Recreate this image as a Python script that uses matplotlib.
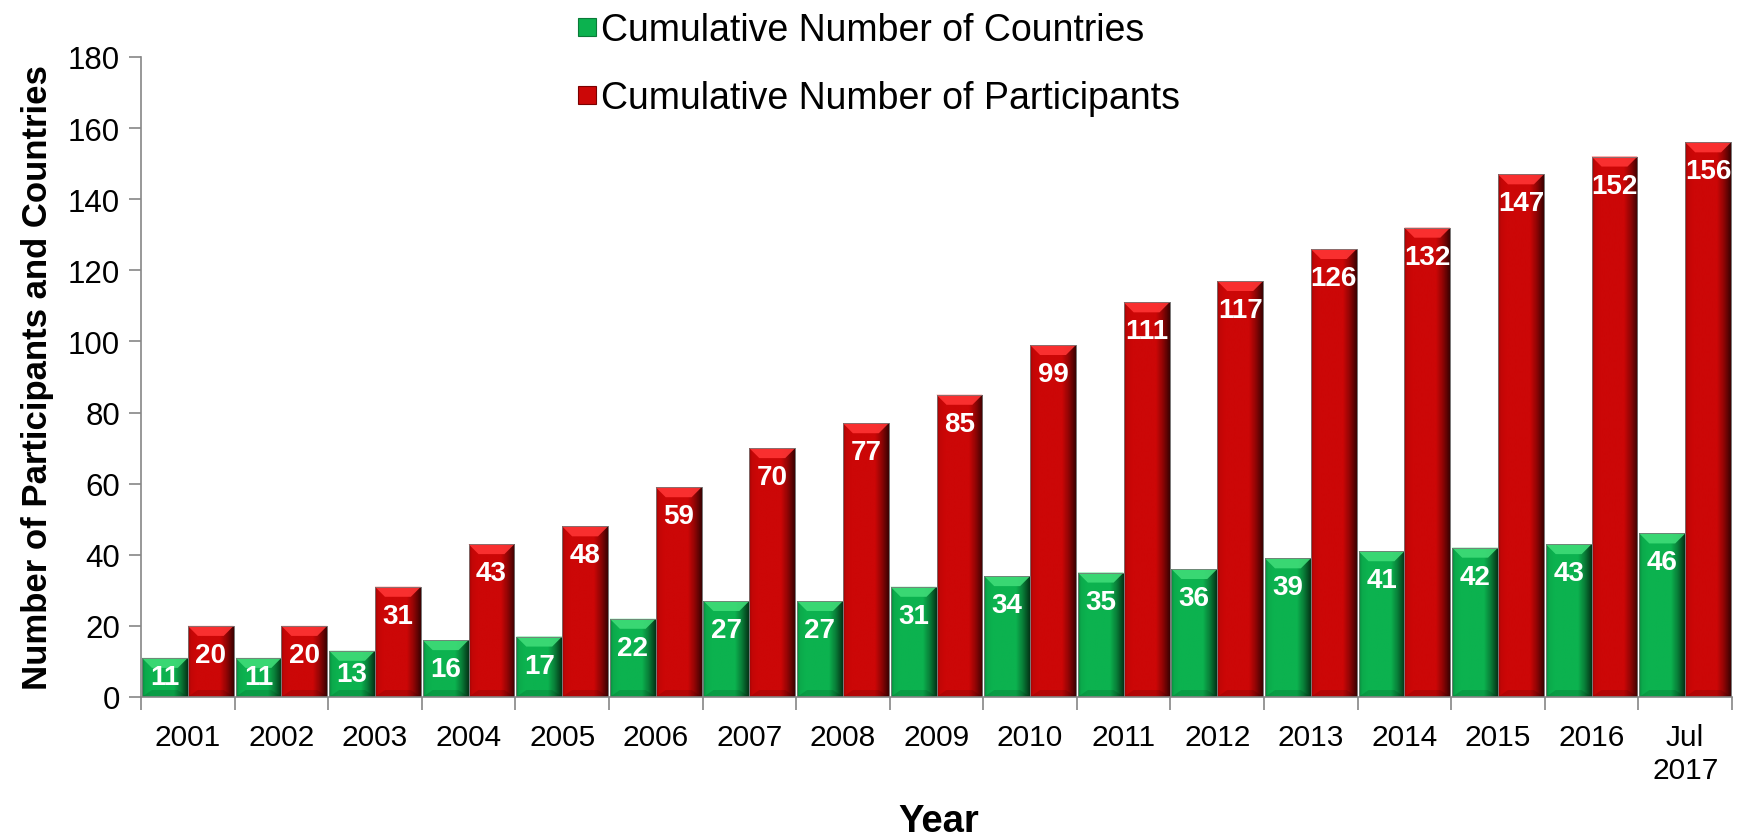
import numpy as np
import matplotlib.pyplot as plt
from matplotlib.patches import Polygon
from matplotlib.lines import Line2D
from matplotlib.colors import to_rgb

plt.rcParams['font.family'] = ['Liberation Sans', 'DejaVu Sans']

# Yearly cumulative totals
years = ['2001', '2002', '2003', '2004', '2005', '2006', '2007', '2008', '2009',
         '2010', '2011', '2012', '2013', '2014', '2015', '2016', 'Jul\n2017']
countries = [11, 11, 13, 16, 17, 22, 27, 27, 31, 34, 35, 36, 39, 41, 42, 43, 46]
participants = [20, 20, 31, 43, 48, 59, 70, 77, 85, 99, 111, 117, 126, 132, 147, 152, 156]

GREEN = '#0cb24f'
GREEN_TOP = '#3fdc78'
RED = '#cc0707'
RED_TOP = '#ff3434'

fig = plt.figure(figsize=(17.42, 8.37), dpi=100)
top_px, bot_px = 58, 698
ax = fig.add_axes([141 / 1742, 1 - bot_px / 837, (1732 - 141) / 1742, (bot_px - top_px) / 837])

x = np.arange(len(years))
w = 0.49
ymax = 180

# pixel sizes of the bevel converted to data units
px_y = ymax / (bot_px - top_px)
px_x = 1 / 93.6
bev = 10


def shade(color, stops, factors):
    xs = np.linspace(0, 1, 64)
    f = np.interp(xs, stops, factors)
    rgb = np.array(to_rgb(color))
    return (f[:, None] * rgb[None, :])[None, :, :]


def draw_series(xpos, vals, color, top_color):
    bars = ax.bar(xpos, vals, width=w, color=color, edgecolor='#7a7a7a',
                  linewidth=0.6, zorder=2)
    grad = shade(color, [0, 0.06, 0.18, 0.7, 0.85, 1.0],
                 [0.78, 0.95, 1.0, 1.0, 0.7, 0.3])
    for b, v in zip(bars, vals):
        x0 = b.get_x()
        x1 = x0 + b.get_width()
        im = ax.imshow(grad, extent=(x0, x1, 0, v), aspect='auto',
                       interpolation='bilinear', zorder=2.1)
        im.set_clip_path(b)
        dx = bev * px_x
        dy = bev * px_y
        ax.add_patch(Polygon([(x0, v), (x1, v), (x1 - dx, v - dy), (x0 + dx, v - dy)],
                             closed=True, facecolor=top_color, edgecolor='none',
                             alpha=0.9, zorder=2.2))
        ax.add_patch(Polygon([(x0, 0), (x1, 0), (x1 - dx, dy * 0.7), (x0 + dx, dy * 0.7)],
                             closed=True, facecolor='black', edgecolor='none',
                             alpha=0.12, zorder=2.2))
        ax.add_patch(Polygon([(x0, 0), (x0, v), (x1, v), (x1, 0)], closed=True,
                             facecolor='none', edgecolor='#7a7a7a', linewidth=0.6,
                             zorder=2.3))
        bar_px = v / px_y
        off = min(29, bar_px / 2)
        ax.annotate(str(v), (b.get_x() + b.get_width() / 2, v), xytext=(0, -off),
                    textcoords='offset pixels', ha='center', va='center',
                    color='white', fontsize=20, fontweight='bold', zorder=3)
    return bars


draw_series(x - w / 2, countries, GREEN, GREEN_TOP)
draw_series(x + w / 2, participants, RED, RED_TOP)

ax.set_xlim(-0.5, len(years) - 0.5)
ax.set_ylim(0, ymax)
ax.set_yticks(np.arange(0, ymax + 1, 20))
ax.set_xticks(x)
ax.set_xticklabels(years)
ax.set_xticks(np.arange(len(years) + 1) - 0.5, minor=True)
ax.tick_params(axis='x', which='major', length=0, labelsize=21.5, pad=19)
ax.tick_params(axis='x', which='minor', length=9, width=1.2, color='#868686')
ax.tick_params(axis='y', length=9, width=1.2, color='#868686', labelsize=22.5, pad=6)
for s in ['top', 'right']:
    ax.spines[s].set_visible(False)
for s in ['left', 'bottom']:
    ax.spines[s].set_color('#868686')
    ax.spines[s].set_linewidth(1.2)

ax.set_ylabel('Number of Participants and Countries', fontsize=25,
              fontweight='bold', labelpad=10)
fig.text(939 / 1742, 1 - 822 / 837, 'Year', fontsize=27.5, fontweight='bold',
         ha='center', va='center')

# square legend keys
handles = [Line2D([], [], marker='s', linestyle='none', markersize=13,
                  markerfacecolor=GREEN, markeredgecolor='#0a7a38', markeredgewidth=0.8),
           Line2D([], [], marker='s', linestyle='none', markersize=13,
                  markerfacecolor=RED, markeredgecolor='#7a0000', markeredgewidth=0.8)]
fig.legend(handles, ['Cumulative Number of Countries', 'Cumulative Number of Participants'],
           loc='upper left', bbox_to_anchor=(559 / 1742, 1 + 6 / 837), frameon=False,
           fontsize=27, handlelength=0.48, handletextpad=0.15,
           labelspacing=0.85, borderpad=0.0)

fig.savefig('out.png', dpi=100)
